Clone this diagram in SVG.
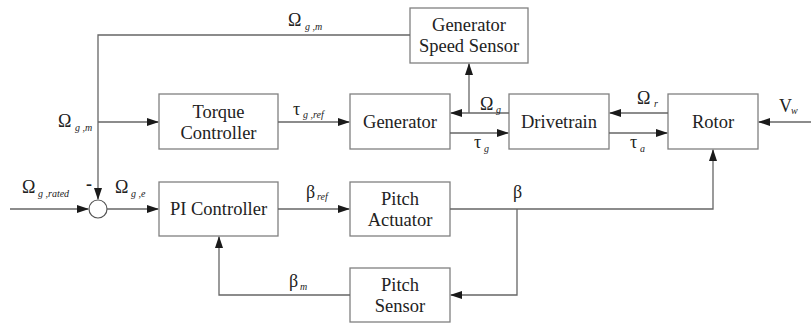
<svg xmlns="http://www.w3.org/2000/svg" width="811" height="325" viewBox="0 0 811 325">
<defs>
<marker id="arr" markerWidth="12" markerHeight="8" refX="11" refY="4" orient="auto" markerUnits="userSpaceOnUse">
<path d="M0,0 L12,4 L0,8 Z" fill="#1a1a1a"/>
</marker>
</defs>
<style>
text{font-family:"Liberation Serif","Times New Roman",serif}
.box{fill:#fff;stroke:#808080;stroke-width:1.3}
.lbl{font-size:18.5px;fill:#222;text-anchor:middle}
.w{fill:none;stroke:#666;stroke-width:1.3}
.g{font-size:18px;fill:#222}
.s{font-size:10px;font-style:italic;fill:#222}
</style>
<rect width="811" height="325" fill="#fff"/>
<g id="gen-speed-sensor"><rect class="box" x="410" y="8" width="118" height="55"/><text class="lbl" x="469" y="31">Generator</text><text class="lbl" x="469" y="52">Speed Sensor</text></g>
<g id="torque-controller"><rect class="box" x="159" y="94" width="119" height="55"/><text class="lbl" x="218.5" y="118">Torque</text><text class="lbl" x="218.5" y="139">Controller</text></g>
<g id="generator"><rect class="box" x="350" y="94" width="100" height="55"/><text class="lbl" x="400" y="128">Generator</text></g>
<g id="drivetrain"><rect class="box" x="509" y="94" width="100" height="55"/><text class="lbl" x="559" y="128">Drivetrain</text></g>
<g id="rotor"><rect class="box" x="668" y="94" width="90" height="55"/><text class="lbl" x="713" y="128">Rotor</text></g>
<g id="sum"><circle cx="98" cy="209" r="9" fill="#fff" stroke="#555" stroke-width="1.2"/></g>
<g id="pi-controller"><rect class="box" x="159" y="182" width="119" height="54"/><text class="lbl" x="218.5" y="215">PI Controller</text></g>
<g id="pitch-actuator"><rect class="box" x="350" y="182" width="100" height="54"/><text class="lbl" x="400" y="205">Pitch</text><text class="lbl" x="400" y="226">Actuator</text></g>
<g id="pitch-sensor"><rect class="box" x="350" y="268" width="100" height="54"/><text class="lbl" x="400" y="291">Pitch</text><text class="lbl" x="400" y="312">Sensor</text></g>

<g id="connectors">
<path class="w" d="M410,35 H98 V199" marker-end="url(#arr)"/>
<path class="w" d="M98,122 H158" marker-end="url(#arr)"/>
<path class="w" d="M278,122 H349" marker-end="url(#arr)"/>
<path class="w" d="M509,113 H451" marker-end="url(#arr)"/>
<path class="w" d="M469,113 V64" marker-end="url(#arr)"/>
<path class="w" d="M450,133 H508" marker-end="url(#arr)"/>
<path class="w" d="M668,113 H610" marker-end="url(#arr)"/>
<path class="w" d="M609,133 H667" marker-end="url(#arr)"/>
<path class="w" d="M811,122 H759" marker-end="url(#arr)"/>
<path class="w" d="M10,209 H88" marker-end="url(#arr)"/>
<path class="w" d="M107,209 H158" marker-end="url(#arr)"/>
<path class="w" d="M278,209 H349" marker-end="url(#arr)"/>
<path class="w" d="M450,209 H713 V150" marker-end="url(#arr)"/>
<path class="w" d="M517,209 V295 H451" marker-end="url(#arr)"/>
<path class="w" d="M350,295 H219 V237" marker-end="url(#arr)"/>
</g>

<g id="labels">
<text class="g" x="288" y="26">Ω</text><text class="s" x="305" y="30">g ,m</text>
<text class="g" x="58" y="127">Ω</text><text class="s" x="75" y="131">g ,m</text>
<text class="g" x="293" y="115">τ</text><text class="s" x="303" y="118">g ,ref</text>
<text class="g" x="480" y="110">Ω</text><text class="s" x="496" y="113">g</text>
<text class="g" x="474" y="148">τ</text><text class="s" x="484" y="152">g</text>
<text class="g" x="637" y="104">Ω</text><text class="s" x="654" y="107">r</text>
<text class="g" x="630" y="148">τ</text><text class="s" x="640" y="152">a</text>
<text class="g" x="779" y="112">V</text><text class="s" x="791" y="114">w</text>
<text class="g" x="22" y="193">Ω</text><text class="s" x="38" y="197">g ,rated</text>
<text class="g" x="86" y="190" font-weight="bold">-</text>
<text class="g" x="115" y="193">Ω</text><text class="s" x="131" y="197">g ,e</text>
<text class="g" x="306" y="198">β</text><text class="s" x="317" y="200">ref</text>
<text class="g" x="513" y="198">β</text>
<text class="g" x="289" y="287">β</text><text class="s" x="300" y="290">m</text>
</g>
</svg>
